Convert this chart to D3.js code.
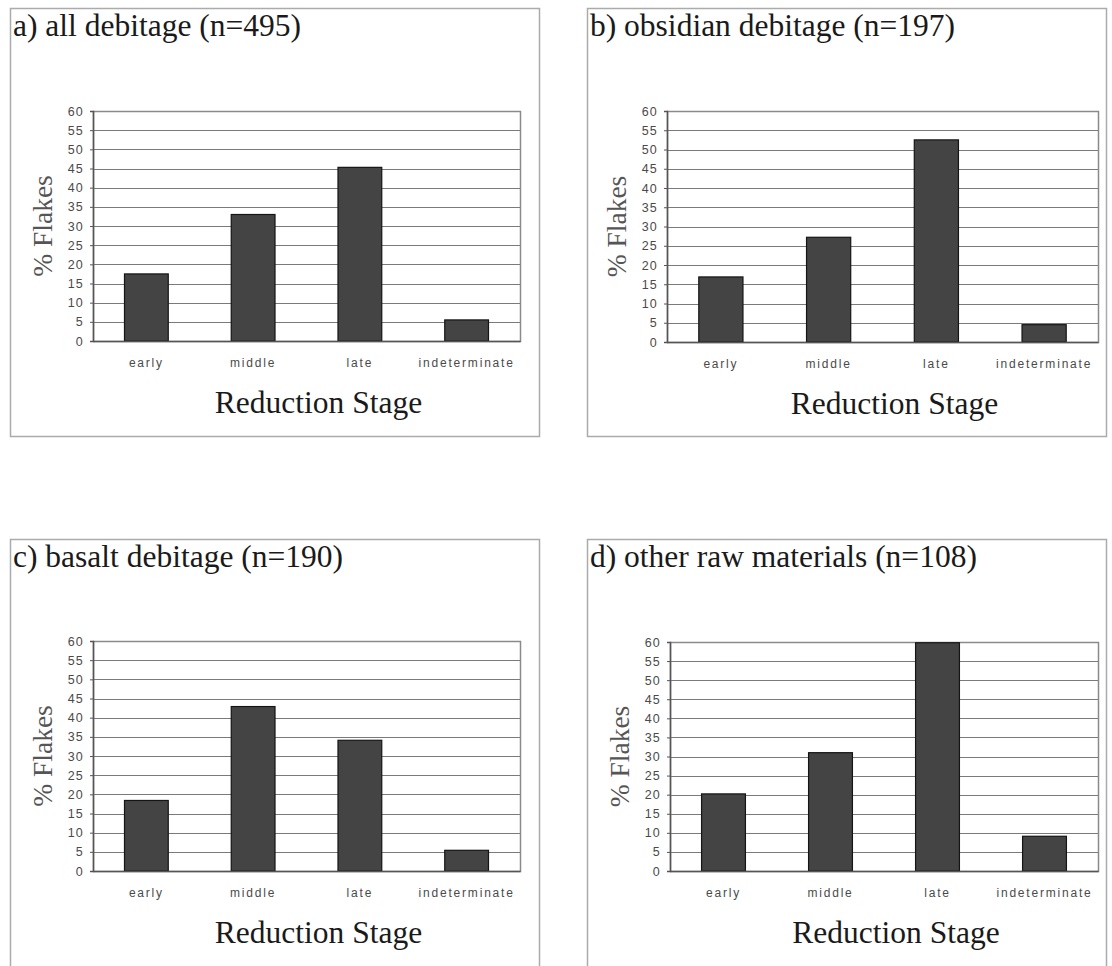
<!DOCTYPE html>
<html>
<head>
<meta charset="utf-8">
<script src="https://cdn.jsdelivr.net/npm/d3@7"></script>
<style>
  html, body { margin: 0; padding: 0; background: #fff; }
  svg { display: block; }
</style>
</head>
<body>
<svg id="chart" width="1112" height="966"></svg>
<script>
// ---- data ----
const categories = ["early", "middle", "late", "indeterminate"];
const yTickValues = [0, 5, 10, 15, 20, 25, 30, 35, 40, 45, 50, 55, 60];
const allDebitage = [17.5, 33.0, 45.3, 5.5];
const obsidianDebitage = [16.9, 27.2, 52.5, 4.5];
const basaltDebitage = [18.4, 42.9, 34.1, 5.4];
const otherRawMaterials = [20.2, 31.0, 59.8, 9.1];
const panelTitles = [
  "a) all debitage (n=495)",
  "b) obsidian debitage (n=197)",
  "c) basalt debitage (n=190)",
  "d) other raw materials (n=108)"
];
const yAxisTitle = "% Flakes";
const xAxisTitle = "Reduction Stage";

// ---- layout ----
const panels = [
  { values: allDebitage,       title: panelTitles[0], frame: [10, 8, 539, 436],   plot: [93, 111, 520, 341] },
  { values: obsidianDebitage,  title: panelTitles[1], frame: [587, 8, 1106, 436], plot: [667, 111, 1098, 342] },
  { values: basaltDebitage,    title: panelTitles[2], frame: [10, 539, 539, 980], plot: [93, 641, 520, 871] },
  { values: otherRawMaterials, title: panelTitles[3], frame: [587, 539, 1106, 980], plot: [670, 642, 1098, 871] }
];

const svg = d3.select("#chart");
const serif = "'Liberation Serif', 'Times New Roman', serif";
const sans = "'Liberation Sans', Arial, sans-serif";

panels.forEach(p => {
  const [fx0, fy0, fx1, fy1] = p.frame;
  const [px0, py0, px1, py1] = p.plot;
  const g = svg.append("g");

  // outer frame
  g.append("rect")
    .attr("x", fx0 + 0.5).attr("y", fy0 + 0.5)
    .attr("width", fx1 - fx0).attr("height", fy1 - fy0)
    .attr("fill", "none").attr("stroke", "#ababab").attr("stroke-width", 1.5);

  // title
  g.append("text")
    .attr("x", fx0 + 3).attr("y", fy0 + 28)
    .attr("font-family", serif).attr("font-size", 31.5).attr("fill", "#1a1a1a")
    .text(p.title);

  const x = d3.scaleBand().domain(categories).range([px0, px1])
    .paddingInner(0.59).paddingOuter(0.295);
  const xCat = d3.scaleBand().domain(categories).range([px0, px1]);
  const y = d3.scaleLinear().domain([0, 60]).range([py1, py0]);

  // gridlines
  g.append("g").selectAll("line").data(yTickValues.filter(v => v > 0 && v < 60)).join("line")
    .attr("x1", px0).attr("x2", px1)
    .attr("y1", d => Math.round(y(d)) + 0.5).attr("y2", d => Math.round(y(d)) + 0.5)
    .attr("stroke", "#7a7a7a").attr("stroke-width", 1);

  // plot border
  g.append("rect")
    .attr("x", px0 + 0.5).attr("y", py0 + 0.5)
    .attr("width", px1 - px0).attr("height", py1 - py0)
    .attr("fill", "none").attr("stroke", "#8a8a8a").attr("stroke-width", 1.5);

  // bars
  g.append("g").selectAll("rect").data(categories).join("rect")
    .attr("x", d => x(d))
    .attr("y", (d, i) => y(p.values[i]))
    .attr("width", x.bandwidth())
    .attr("height", (d, i) => y(0) - y(p.values[i]))
    .attr("fill", "#444444").attr("stroke", "#151515").attr("stroke-width", 1.2);

  // y axis
  const yAxis = d3.axisLeft(y).tickValues(yTickValues).tickSize(3).tickPadding(6);
  const ya = g.append("g").attr("transform", `translate(${px0},0)`).call(yAxis);
  ya.select(".domain").attr("stroke", "#555").attr("stroke-width", 1.5);
  ya.selectAll(".tick line").attr("stroke", "#555");
  ya.selectAll(".tick text")
    .attr("font-family", sans).attr("font-size", 12.5).attr("fill", "#4a4a4a")
    .attr("letter-spacing", 1.2);

  // x axis (bottom line + category labels)
  const xAxis = d3.axisBottom(xCat).tickSize(0).tickPadding(17);
  const xa = g.append("g").attr("transform", `translate(0,${py1})`).call(xAxis);
  xa.select(".domain").attr("stroke", "#555").attr("stroke-width", 1.5);
  xa.selectAll(".tick text")
    .attr("font-family", sans).attr("font-size", 12).attr("fill", "#4a4a4a")
    .attr("letter-spacing", 1.8);

  // axis titles
  g.append("text")
    .attr("transform", `translate(${px0 - 41},${(py0 + py1) / 2}) rotate(-90)`)
    .attr("text-anchor", "middle")
    .attr("font-family", serif).attr("font-size", 27.5).attr("fill", "#555")
    .text(yAxisTitle);

  g.append("text")
    .attr("x", (px0 + px1) / 2 + 12).attr("y", py1 + 72)
    .attr("text-anchor", "middle")
    .attr("font-family", serif).attr("font-size", 31.5).attr("fill", "#1a1a1a")
    .text(xAxisTitle);
});
</script>
</body>
</html>
